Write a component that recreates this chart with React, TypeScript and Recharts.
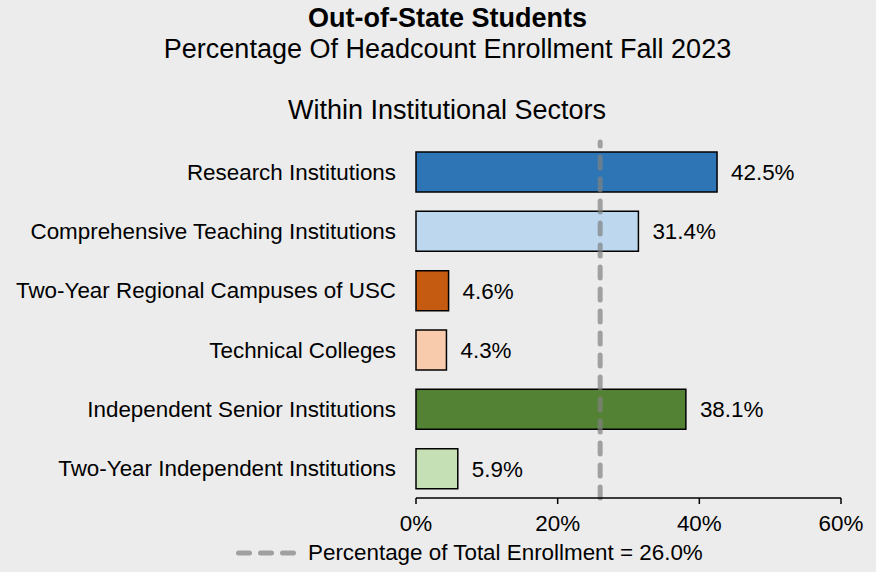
import React from "react";
import {
  BarChart,
  Bar,
  XAxis,
  YAxis,
  Cell,
  LabelList,
  ReferenceLine,
} from "recharts";

const categories = [
  "Research Institutions",
  "Comprehensive Teaching Institutions",
  "Two-Year Regional Campuses of USC",
  "Technical Colleges",
  "Independent Senior Institutions",
  "Two-Year Independent Institutions",
];
const values = [42.5, 31.4, 4.6, 4.3, 38.1, 5.9];
const barColors = ["#2e75b6", "#bdd7ee", "#c55a11", "#f8cbad", "#548235", "#c5e0b4"];
const xTicks = [0, 20, 40, 60];
const totalPct = 26.0;

const titleText = "Out-of-State Students";
const subtitleText = "Percentage Of Headcount Enrollment Fall 2023";
const sectorText = "Within Institutional Sectors";
const legendText = `Percentage of Total Enrollment = ${totalPct.toFixed(1)}%`;

const FONT = "'Liberation Sans', Arial, Helvetica, sans-serif";
const BG = "#ececec";
const REF_COLOR = "#808080";
const LABEL_SIZE = 22.4;
const TITLE_SIZE = 27;

const data = categories.map((name, i) => ({ name, value: values[i] }));

export default function App() {
  return (
    <div
      style={{
        position: "absolute",
        left: 0,
        top: 0,
        width: 876,
        height: 572,
        background: BG,
        fontFamily: FONT,
      }}
    >
      <BarChart
        layout="vertical"
        width={876}
        height={572}
        data={data}
        margin={{ top: 142, right: 35, bottom: 34, left: 0 }}
      >
        <XAxis
          type="number"
          domain={[0, 60]}
          ticks={xTicks}
          tickFormatter={(v: number) => `${v}%`}
          axisLine={{ stroke: "#000", strokeWidth: 1.5 }}
          tickLine={{ stroke: "#000", strokeWidth: 1.5 }}
          tickSize={6}
          tickMargin={11.5}
          height={40}
          tick={{ fill: "#000", fontSize: LABEL_SIZE, fontFamily: FONT }}
        />
        <YAxis
          type="category"
          dataKey="name"
          width={416}
          axisLine={false}
          tickLine={false}
          tickSize={0}
          tickMargin={20}
          interval={0}
          tick={{ fill: "#000", fontSize: LABEL_SIZE, fontFamily: FONT }}
        />
        <Bar
          dataKey="value"
          barSize={40}
          stroke="#000"
          strokeWidth={1.5}
          isAnimationActive={false}
        >
          {data.map((d, i) => (
            <Cell key={d.name} fill={barColors[i]} />
          ))}
          <LabelList
            dataKey="value"
            position="right"
            offset={14}
            formatter={(v: any) => `${Number(v).toFixed(1)}%`}
            style={{ fill: "#000", fontSize: LABEL_SIZE, fontFamily: FONT }}
          />
        </Bar>
        <ReferenceLine
          x={totalPct}
          stroke={REF_COLOR}
          strokeOpacity={0.7}
          strokeWidth={5}
          strokeDasharray="11 11"
          strokeLinecap="round"
          ifOverflow="extendDomain"
        />
      </BarChart>
      <svg
        width={876}
        height={572}
        style={{ position: "absolute", left: 0, top: 0, pointerEvents: "none" }}
      >
        <text x={447.5} y={26.7} textAnchor="middle" fontSize={TITLE_SIZE} fontWeight="bold" fontFamily={FONT} fill="#000">
          {titleText}
        </text>
        <text x={447.5} y={58.3} textAnchor="middle" fontSize={TITLE_SIZE} fontFamily={FONT} fill="#000">
          {subtitleText}
        </text>
        <text x={447} y={119} textAnchor="middle" fontSize={TITLE_SIZE} fontFamily={FONT} fill="#000">
          {sectorText}
        </text>
        <line
          x1={238.5}
          x2={293.5}
          y1={553}
          y2={553}
          stroke={REF_COLOR}
          strokeOpacity={0.7}
          strokeWidth={5}
          strokeDasharray="11 11"
          strokeLinecap="round"
        />
        <text x={308} y={559.5} fontSize={LABEL_SIZE} fontFamily={FONT} fill="#000">
          {legendText}
        </text>
      </svg>
    </div>
  );
}
